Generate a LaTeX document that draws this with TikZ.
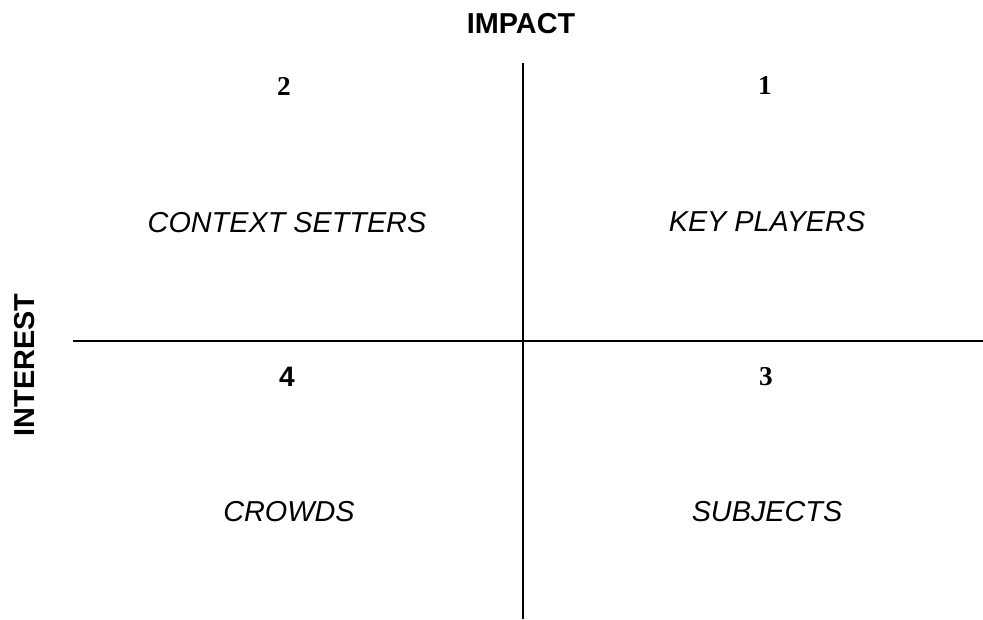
\documentclass[tikz,border=0pt]{standalone}
\usepackage{fontspec}
\setmainfont{Liberation Serif}
\setsansfont{Liberation Sans}
\usepackage{tikz}

\begin{document}
\begin{tikzpicture}[x=0.02cm, y=-0.02cm,
        axis/.style={line width=1.1pt},
        heading/.style={font=\sffamily\bfseries\fontsize{16.4}{18}\selectfont, inner sep=0pt},
        num/.style={font=\bfseries\fontsize{15.5}{18}\selectfont, inner sep=0pt},
        quad/.style={font=\sffamily\itshape\fontsize{16.4}{18}\selectfont, inner sep=0pt}]
        \useasboundingbox (0, 0) rectangle (983, 619);

        % axes
        \coordinate (top) at (523, 63);
        \coordinate (bottom) at (523, 619);
        \coordinate (left) at (73, 341);
        \coordinate (right) at (983, 341);

        \node[heading] (impact) at (521, 24) {IMPACT};
        \node[heading, rotate=90] (interest) at (25, 365) {INTEREST};

        \node[num] (two) at (284, 86) {2};
        \node[num] (one) at (765, 86) {1};
        \node[num, font=\sffamily\bfseries\fontsize{16}{18}\selectfont] (four) at (287, 377) {4};
        \node[num] (three) at (766, 377) {3};

        \node[quad] (cs) at (287, 223) {CONTEXT SETTERS};
        \node[quad] (kp) at (767, 222) {KEY PLAYERS};
        \node[quad] (cr) at (289, 512) {CROWDS};
        \node[quad] (sb) at (767, 512) {SUBJECTS};

        \draw[axis] (top) -- (bottom);
        \draw[axis] (left) -- (right);

    \end{tikzpicture}
\end{document}
